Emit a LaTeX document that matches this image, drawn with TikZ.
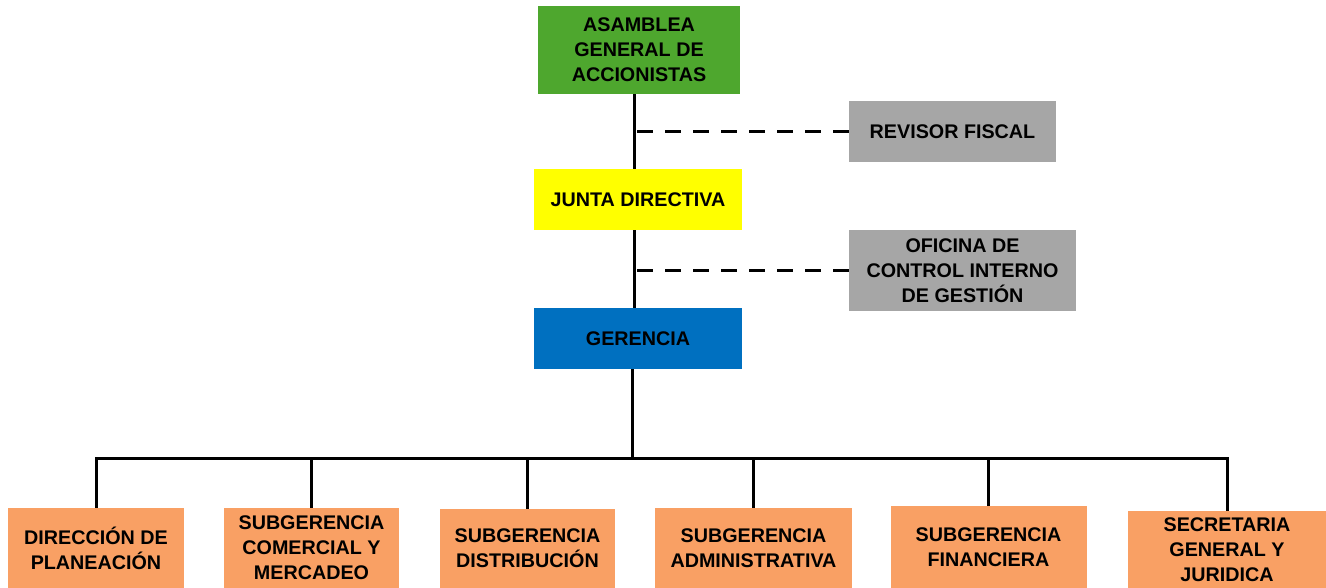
\documentclass[tikz,border=0pt]{standalone}
\usepackage{fontspec}
\setmainfont{Liberation Sans}
\usepackage{tikz}

\definecolor{asambleagreen}{HTML}{4EA72E}
\definecolor{juntayellow}{HTML}{FFFF00}
\definecolor{controlgray}{HTML}{A6A6A6}
\definecolor{gerenciablue}{HTML}{0070C0}
\definecolor{areaorange}{HTML}{F9A064}

\tikzset{
  unit/.style={inner sep=0pt, align=center, font=\bfseries\fontsize{14.8}{18.75}\selectfont},
  link/.style={line width=2.25pt},
  dashlink/.style={line width=2.6pt, dash pattern=on 12pt off 9pt},
}

\begin{document}
\begin{tikzpicture}[x=0.75pt, y=-0.75pt]
  \useasboundingbox (0,0) rectangle (1326,588);

  % top of the chart
  \node [unit, fill=asambleagreen, minimum width=151.5pt, minimum height=66pt] (asamblea) at (639,50) {ASAMBLEA\\GENERAL DE\\ACCIONISTAS};
  \node [unit, fill=controlgray, minimum width=155.25pt, minimum height=45.75pt] (revisor) at (952.5,131.5) {REVISOR FISCAL};
  \node [unit, fill=juntayellow, minimum width=156pt, minimum height=45.75pt] (junta) at (638,199.5) {JUNTA DIRECTIVA};
  \node [unit, fill=controlgray, minimum width=170.25pt, minimum height=60.75pt] (oficina) at (962.5,270.5) {OFICINA DE\\CONTROL INTERNO\\DE GESTIÓN};
  \node [unit, fill=gerenciablue, minimum width=156pt, minimum height=45.75pt] (gerencia) at (638,338.5) {GERENCIA};

  % areas under the gerencia
  \node [unit, fill=areaorange, minimum width=132pt, minimum height=60pt] (planeacion) at (96,548) {DIRECCIÓN DE\\PLANEACIÓN};
  \node [unit, fill=areaorange, minimum width=131.25pt, minimum height=60pt] (comercial) at (311.5,548) {SUBGERENCIA\\COMERCIAL Y\\MERCADEO};
  \node [unit, fill=areaorange, minimum width=131.25pt, minimum height=59.25pt] (distribucion) at (527.5,548.5) {SUBGERENCIA\\DISTRIBUCIÓN};
  \node [unit, fill=areaorange, minimum width=147.75pt, minimum height=60pt] (administrativa) at (753.5,548) {SUBGERENCIA\\ADMINISTRATIVA};
  \node [unit, fill=areaorange, minimum width=147pt, minimum height=61.5pt] (financiera) at (988.5,547) {SUBGERENCIA\\FINANCIERA};
  \node [unit, fill=areaorange, minimum width=148.5pt, minimum height=57.75pt] (juridica) at (1227,549.5) {SECRETARIA\\GENERAL Y\\JURIDICA};

  \coordinate (spine) at (634,0);
  \coordinate (bus) at (632,458);

  \draw [link] (asamblea.south -| spine) -- (junta.north -| spine);
  \draw [link] (junta.south -| spine) -- (gerencia.north -| spine);
  \draw [dashlink] (revisor.west) -- (revisor.west -| spine);
  \draw [dashlink] (oficina.west) -- (oficina.west -| spine);

  \draw [link] (gerencia.south -| bus) -- (bus);
  \draw [link, line cap=rect] (planeacion.north |- bus) -- (juridica.north |- bus);
  \foreach \area in {planeacion, comercial, distribucion, administrativa, financiera, juridica}
    \draw [link] (\area.north) -- (\area.north |- bus);
\end{tikzpicture}
\end{document}
